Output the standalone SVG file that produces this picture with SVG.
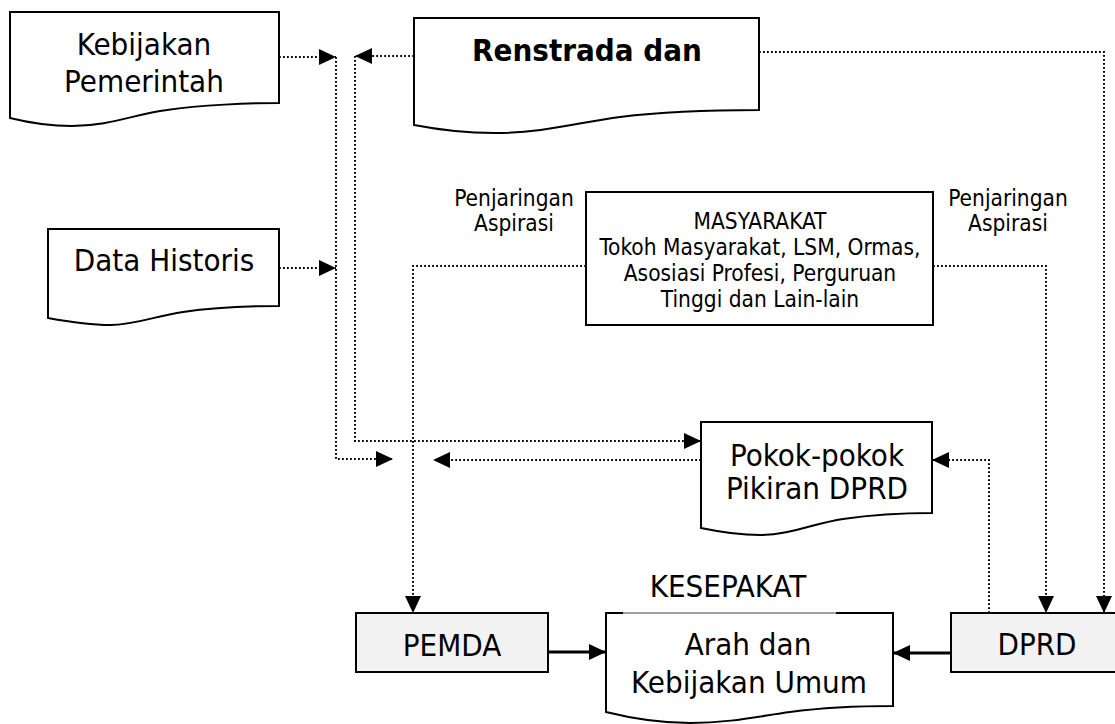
<svg xmlns="http://www.w3.org/2000/svg" width="1115" height="724" viewBox="0 0 1115 724">
<style>
.box{fill:#fff;stroke:#000;stroke-width:2}
.gray{fill:#f2f2f2;stroke:#000;stroke-width:2}
.t{font-family:"DejaVu Sans Condensed","DejaVu Sans",sans-serif;fill:#000;text-anchor:middle}
.big{font-size:31px}
.sm{font-size:22.5px}
.dot{fill:none;stroke:#000;stroke-width:2;stroke-dasharray:1.8 2.2}
.sol{fill:none;stroke:#000;stroke-width:3}
</style>
<defs>
<marker id="ah" markerWidth="18" markerHeight="18" refX="17" refY="8.5" orient="auto" markerUnits="userSpaceOnUse" viewBox="0 0 18 17">
<path d="M0,0.5 L17,8.5 L0,16.5 Z" fill="#000"/>
</marker>
</defs>
<rect width="1115" height="724" fill="#fff"/>

<g id="kebijakan">
<path class="box" d="M10,12 H279 V103 C250,103 200,105 167,110 C135,114 110,126 72,126 C50,126 30,123 10,118 Z"/>
<text class="t big" x="144" y="55">Kebijakan</text>
<text class="t big" x="144" y="92">Pemerintah</text>
</g>

<g id="data-historis">
<path class="box" d="M48,229 H279 V306 C250,306 210,308 183,312 C155,316 135,325 110,325 C90,325 70,322 48,318 Z"/>
<text class="t big" x="164" y="271">Data Historis</text>
</g>

<g id="renstrada">
<path class="box" d="M414,18 H759 V110 C720,110 660,112 620,117 C580,122 545,133 494,133 C465,133 440,130 414,125 Z"/>
<text class="t big" x="587" y="61" font-weight="bold">Renstrada dan</text>
</g>

<g id="masyarakat">
<rect class="box" x="586" y="192" width="347" height="133"/>
<text class="t sm" x="760" y="229">MASYARAKAT</text>
<text class="t sm" x="760" y="255">Tokoh Masyarakat, LSM, Ormas,</text>
<text class="t sm" x="760" y="281">Asosiasi Profesi, Perguruan</text>
<text class="t sm" x="760" y="307">Tinggi dan Lain-lain</text>
</g>

<g id="label-left">
<text class="t sm" x="514" y="206">Penjaringan</text>
<text class="t sm" x="514" y="231">Aspirasi</text>
</g>
<g id="label-right">
<text class="t sm" x="1008" y="206">Penjaringan</text>
<text class="t sm" x="1008" y="231">Aspirasi</text>
</g>

<g id="pokok">
<path class="box" d="M701,422 H932 V513 C905,513 870,515 843,519 C815,523 790,535 760,535 C740,535 720,532 701,528 Z"/>
<text class="t big" x="817" y="466">Pokok-pokok</text>
<text class="t big" x="817" y="499">Pikiran DPRD</text>
</g>

<g id="pemda">
<rect class="gray" x="356" y="613" width="192" height="59"/>
<text class="t big" x="452" y="656">PEMDA</text>
</g>

<g id="arah">
<text class="t big" x="728" y="597">KESEPAKAT</text>
<path class="box" d="M606,613 H893 V706 C860,706 820,708 790,712 C760,716 730,723 690,723 C660,723 630,718 606,712 Z"/>
<line x1="623" y1="613" x2="836" y2="613" stroke="#fff" stroke-width="2.5"/>
<line x1="623" y1="613" x2="836" y2="613" stroke="#444" stroke-width="1"/>
<text class="t big" x="748" y="655">Arah dan</text>
<text class="t big" x="749" y="693">Kebijakan Umum</text>
</g>

<g id="dprd">
<rect class="gray" x="951" y="613" width="175" height="59"/>
<text class="t big" x="1037" y="655">DPRD</text>
</g>

<g id="connectors">
<path class="dot" d="M279,57 H336" marker-end="url(#ah)"/>
<path class="dot" d="M279,268 H336" marker-end="url(#ah)"/>
<path class="dot" d="M336,57 V459 H393" marker-end="url(#ah)"/>
<path class="dot" d="M414,56 H355" marker-end="url(#ah)"/>
<path class="dot" d="M355,56 V441 H701" marker-end="url(#ah)"/>
<path class="dot" d="M701,460 H433" marker-end="url(#ah)"/>
<path class="dot" d="M586,266 H413 V613" marker-end="url(#ah)"/>
<path class="dot" d="M933,266 H1046 V613" marker-end="url(#ah)"/>
<path class="dot" d="M759,52 H1104 V613" marker-end="url(#ah)"/>
<path class="dot" d="M989,613 V460 H932" marker-end="url(#ah)"/>
<path class="sol" d="M548,652 H606" marker-end="url(#ah)"/>
<path class="sol" d="M951,653 H893" marker-end="url(#ah)"/>
</g>
</svg>
